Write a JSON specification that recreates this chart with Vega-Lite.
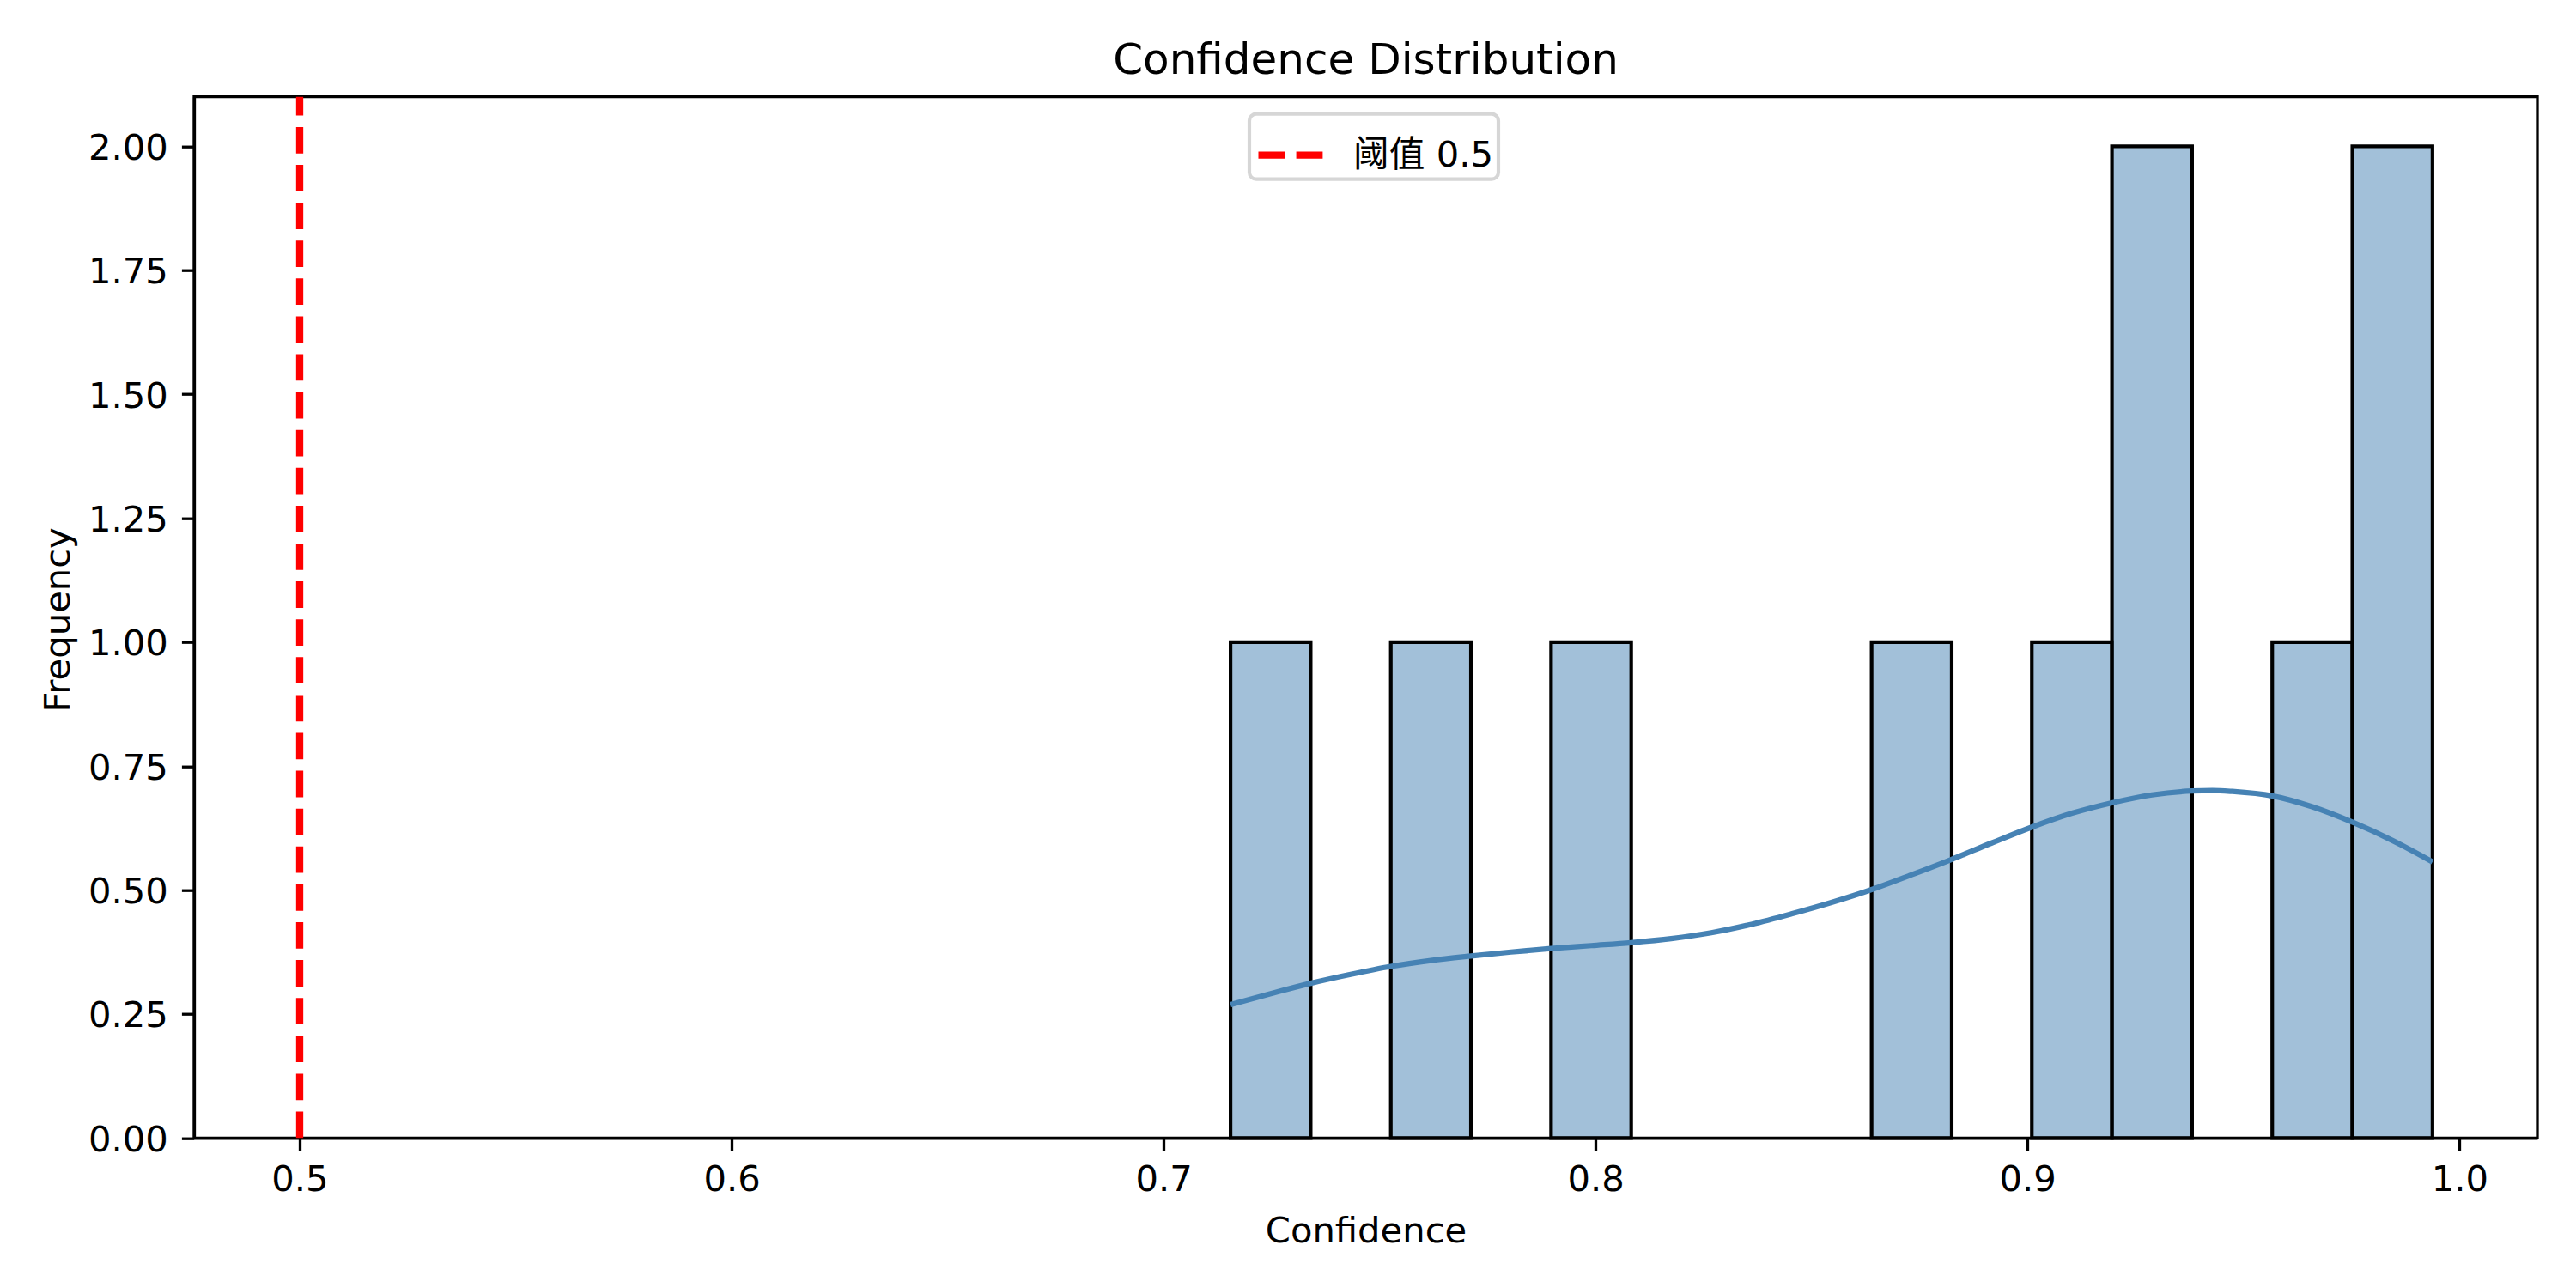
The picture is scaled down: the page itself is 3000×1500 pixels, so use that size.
{
  "$schema": "https://vega.github.io/schema/vega-lite/v6.json",
  "description": "Confidence Distribution: histogram with KDE and a 0.5 threshold",
  "width": 2729,
  "height": 1212.6,
  "autosize": {"type": "none"},
  "padding": {"left": 226, "top": 112.7, "right": 45, "bottom": 174.7},
  "background": "white",
  "title": {
    "text": "Confidence Distribution",
    "font": "DejaVu Sans",
    "fontSize": 50,
    "fontWeight": "normal",
    "color": "black",
    "anchor": "middle",
    "baseline": "alphabetic",
    "offset": 25,
    "dy": 52
  },
  "datasets": {
    "bins": [
      {"bin_start": 0.7155, "bin_end": 0.73405, "count": 1},
      {"bin_start": 0.7526, "bin_end": 0.77115, "count": 1},
      {"bin_start": 0.7897, "bin_end": 0.80825, "count": 1},
      {"bin_start": 0.8639, "bin_end": 0.88245, "count": 1},
      {"bin_start": 0.901, "bin_end": 0.91955, "count": 1},
      {"bin_start": 0.91955, "bin_end": 0.9381, "count": 2},
      {"bin_start": 0.95665, "bin_end": 0.9752, "count": 1},
      {"bin_start": 0.9752, "bin_end": 0.99375, "count": 2}
    ],
    "kde": [
      {"confidence": 0.7155, "density": 0.269},
      {"confidence": 0.7248, "density": 0.291},
      {"confidence": 0.73405, "density": 0.312},
      {"confidence": 0.7433, "density": 0.33},
      {"confidence": 0.7526, "density": 0.346},
      {"confidence": 0.7619, "density": 0.358},
      {"confidence": 0.77115, "density": 0.367},
      {"confidence": 0.7804, "density": 0.375},
      {"confidence": 0.7897, "density": 0.382},
      {"confidence": 0.799, "density": 0.388},
      {"confidence": 0.80825, "density": 0.394},
      {"confidence": 0.8175, "density": 0.402},
      {"confidence": 0.8268, "density": 0.414},
      {"confidence": 0.8361, "density": 0.431},
      {"confidence": 0.84535, "density": 0.452},
      {"confidence": 0.8546, "density": 0.475},
      {"confidence": 0.8639, "density": 0.501},
      {"confidence": 0.8732, "density": 0.531},
      {"confidence": 0.88245, "density": 0.562},
      {"confidence": 0.8917, "density": 0.595},
      {"confidence": 0.901, "density": 0.627},
      {"confidence": 0.9103, "density": 0.655},
      {"confidence": 0.91955, "density": 0.676},
      {"confidence": 0.9288, "density": 0.692},
      {"confidence": 0.9381, "density": 0.7},
      {"confidence": 0.9428, "density": 0.701},
      {"confidence": 0.9474, "density": 0.699},
      {"confidence": 0.95665, "density": 0.69},
      {"confidence": 0.9659, "density": 0.668},
      {"confidence": 0.9752, "density": 0.637},
      {"confidence": 0.9845, "density": 0.6},
      {"confidence": 0.99375, "density": 0.557}
    ],
    "threshold": [
      {"value": 0.5, "label": "阈值 0.5"}
    ]
  },
  "layer": [
    {
      "data": {"name": "bins"},
      "mark": {
        "type": "rect",
        "fill": "#4682b4",
        "fillOpacity": 0.5,
        "stroke": "black",
        "strokeWidth": 4.17
      },
      "encoding": {
        "x": {
          "field": "bin_start",
          "type": "quantitative",
          "title": "Confidence",
          "scale": {"domain": [0.47555, 1.01803], "nice": false, "zero": false},
          "axis": {
            "values": [0.5, 0.6, 0.7, 0.8, 0.9, 1.0],
            "format": ".1f",
            "labelBaseline": "alphabetic",
            "labelPadding": 46.8,
            "titleY": 121
          }
        },
        "x2": {"field": "bin_end"},
        "y": {
          "field": "count",
          "type": "quantitative",
          "title": "Frequency",
          "scale": {"domain": [0, 2.1], "nice": false},
          "axis": {
            "values": [0, 0.25, 0.5, 0.75, 1.0, 1.25, 1.5, 1.75, 2.0],
            "format": ".2f",
            "labelBaseline": "alphabetic",
            "labelOffset": 15,
            "labelPadding": 16,
            "titleX": -146,
            "titleY": 608.7
          }
        },
        "y2": {"datum": 0}
      }
    },
    {
      "data": {"name": "kde"},
      "mark": {
        "type": "line",
        "color": "#4682b4",
        "strokeWidth": 6.25,
        "interpolate": "monotone"
      },
      "encoding": {
        "x": {"field": "confidence", "type": "quantitative"},
        "y": {"field": "density", "type": "quantitative"}
      }
    },
    {
      "data": {"name": "threshold"},
      "mark": {
        "type": "rule",
        "strokeWidth": 8.33,
        "strokeDash": [30.8, 13.3]
      },
      "encoding": {
        "x": {"field": "value", "type": "quantitative"},
        "y": {"datum": 0},
        "y2": {"datum": 2.1},
        "color": {
          "field": "label",
          "type": "nominal",
          "scale": {"domain": ["阈值 0.5"], "range": ["red"]},
          "legend": {
            "title": null,
            "orient": "none",
            "legendX": 1229,
            "legendY": 20,
            "symbolType": "stroke",
            "symbolStrokeWidth": 8.33,
            "symbolDash": [30.8, 13.3],
            "symbolSize": 5625,
            "labelFont": "DejaVu Sans, Noto Sans CJK SC",
            "labelFontSize": 41.7,
            "labelColor": "black",
            "labelLimit": 500,
            "labelOffset": 31,
            "padding": 6,
            "fillColor": "rgba(255,255,255,0.8)",
            "strokeColor": "#d6d6d6",
            "cornerRadius": 8,
            "encode": {
              "legend": {"update": {"strokeWidth": {"value": 4.17}}}
            }
          }
        }
      }
    }
  ],
  "config": {
    "view": {"stroke": "black", "strokeWidth": 3.3},
    "axis": {
      "grid": false,
      "domainColor": "black",
      "domainWidth": 3.3,
      "tickColor": "black",
      "tickWidth": 3.3,
      "tickSize": 14.6,
      "labelFont": "DejaVu Sans",
      "labelFontSize": 41.7,
      "labelColor": "black",
      "labelFlush": false,
      "labelOverlap": false,
      "titleFont": "DejaVu Sans",
      "titleFontSize": 41.7,
      "titleFontWeight": "normal",
      "titleColor": "black",
      "titleBaseline": "alphabetic"
    }
  }
}
